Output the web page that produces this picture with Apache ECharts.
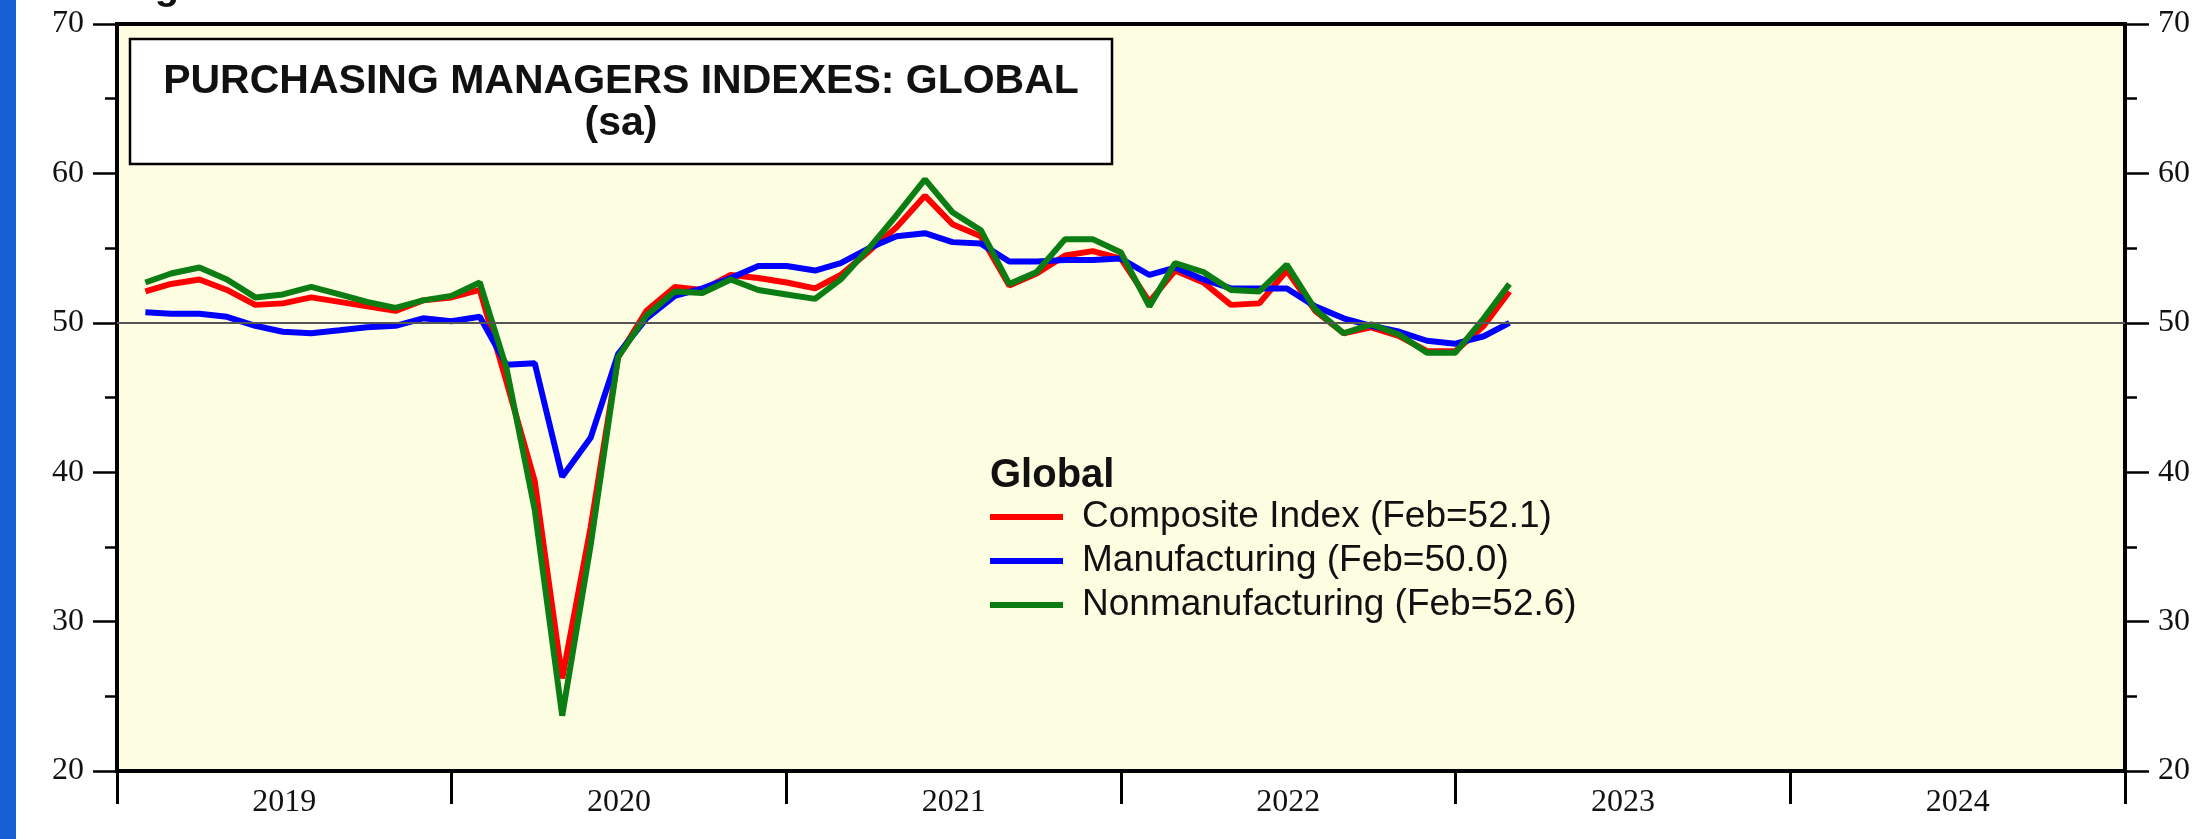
<!DOCTYPE html>
<html>
<head>
<meta charset="utf-8">
<script src="https://cdn.jsdelivr.net/npm/echarts@6/dist/echarts.min.js"></script>
<style>
  html, body { margin: 0; padding: 0; background: #ffffff; }
  #chart { width: 2193px; height: 839px; }
</style>
</head>
<body>
<div id="chart"></div>
<script>
// ---- data (monthly, Jan 2019 .. Feb 2023) ----
const months = [
  '2019-01','2019-02','2019-03','2019-04','2019-05','2019-06','2019-07','2019-08','2019-09','2019-10','2019-11','2019-12',
  '2020-01','2020-02','2020-03','2020-04','2020-05','2020-06','2020-07','2020-08','2020-09','2020-10','2020-11','2020-12',
  '2021-01','2021-02','2021-03','2021-04','2021-05','2021-06','2021-07','2021-08','2021-09','2021-10','2021-11','2021-12',
  '2022-01','2022-02','2022-03','2022-04','2022-05','2022-06','2022-07','2022-08','2022-09','2022-10','2022-11','2022-12',
  '2023-01','2023-02'
];
const composite = [
  52.1, 52.6, 52.9, 52.2, 51.2, 51.3, 51.7, 51.4, 51.1, 50.8, 51.5, 51.7,
  52.2, 46.1, 39.4, 26.2, 36.3, 47.7, 50.8, 52.4, 52.2, 53.2, 53.0, 52.7,
  52.3, 53.2, 54.8, 56.4, 58.5, 56.6, 55.8, 52.5, 53.3, 54.5, 54.8, 54.3,
  51.4, 53.5, 52.7, 51.2, 51.3, 53.5, 50.8, 49.3, 49.7, 49.1, 48.1, 48.1,
  49.8, 52.1
];
const manufacturing = [
  50.7, 50.6, 50.6, 50.4, 49.8, 49.4, 49.3, 49.5, 49.7, 49.8, 50.3, 50.1,
  50.4, 47.2, 47.3, 39.7, 42.3, 47.9, 50.3, 51.8, 52.3, 53.0, 53.8, 53.8,
  53.5, 54.0, 55.0, 55.8, 56.0, 55.4, 55.3, 54.1, 54.1, 54.2, 54.2, 54.3,
  53.2, 53.7, 52.9, 52.3, 52.3, 52.3, 51.1, 50.3, 49.8, 49.4, 48.8, 48.6,
  49.1, 50.0
];
const nonmanufacturing = [
  52.7, 53.3, 53.7, 52.9, 51.7, 51.9, 52.4, 51.9, 51.4, 51.0, 51.5, 51.8,
  52.7, 47.0, 37.5, 23.7, 35.1, 47.7, 50.5, 52.1, 52.0, 52.9, 52.2, 51.9,
  51.6, 52.9, 55.0, 57.2, 59.6, 57.4, 56.2, 52.6, 53.4, 55.6, 55.6, 54.7,
  51.1, 54.0, 53.4, 52.2, 52.1, 53.9, 50.9, 49.3, 49.9, 49.2, 48.0, 48.0,
  50.3, 52.6
];
const yearLabels = ['2019', '2020', '2021', '2022', '2023', '2024'];
const yTicks = { min: 20, max: 70, interval: 10 };
const xRange = { min: '2019-01', max: '2025-01' };

// ---- helpers ----
function monthStart(ym, addMonths) {
  const [y, m] = ym.split('-').map(Number);
  return new Date(y, m - 1 + (addMonths || 0), 1).getTime();
}
// each monthly value is plotted at the end of its month
function pts(values) { return months.map((m, i) => [monthStart(m, 1), values[i]]); }
const lastMonth = 'Feb';
function lbl(name, values) { return name + ' (' + lastMonth + '=' + values[values.length - 1].toFixed(1) + ')'; }

const serif = 'Liberation Serif';
const sans = 'Liberation Sans';

const chart = echarts.init(document.getElementById('chart'), null, { renderer: 'canvas' });

const yAxisBase = {
  type: 'value',
  min: yTicks.min, max: yTicks.max, interval: yTicks.interval,
  axisLine: { show: true, lineStyle: { color: '#000', width: 4 } },
  axisTick: { show: true, inside: false, length: 24, lineStyle: { color: '#000', width: 2.5 } },
  minorTick: { show: true, splitNumber: 2, length: 12, lineStyle: { color: '#000', width: 2.5 } },
  splitLine: { show: false },
  minorSplitLine: { show: false },
  axisLabel: { fontFamily: serif, fontSize: 32, color: '#111', margin: 33 }
};

const option = {
  animation: false,
  backgroundColor: '#ffffff',
  grid: {
    left: 117, right: 60, top: 24, bottom: 68,
    show: true, backgroundColor: '#fdfde2', borderColor: '#000', borderWidth: 4
  },
  xAxis: [
    {
      type: 'category', data: yearLabels, boundaryGap: true, position: 'bottom',
      axisLine: { show: true, lineStyle: { color: '#000', width: 4 } },
      axisTick: { show: true, interval: 0, length: 33, lineStyle: { color: '#000', width: 3 } },
      axisLabel: { interval: 0, fontFamily: serif, fontSize: 32, color: '#111', margin: 16 },
      splitLine: { show: false }
    },
    {
      type: 'time', min: monthStart(xRange.min), max: monthStart(xRange.max), show: false,
      splitLine: { show: false }
    }
  ],
  yAxis: [
    Object.assign({}, yAxisBase, { position: 'left' }),
    Object.assign({}, yAxisBase, { position: 'right' })
  ],
  legend: {
    show: true, orient: 'vertical', left: 990, top: 498,
    itemWidth: 73, itemHeight: 6, itemGap: 6, icon: 'rect', selectedMode: false,
    padding: 0,
    textStyle: { fontFamily: sans, fontSize: 37, color: '#111', lineHeight: 38, padding: [0, 0, 0, 14] },
    data: [lbl('Composite Index', composite), lbl('Manufacturing', manufacturing), lbl('Nonmanufacturing', nonmanufacturing)]
  },
  graphic: [
    { type: 'rect', left: 0, top: 0, shape: { x: 0, y: 0, width: 16, height: 839 }, style: { fill: '#1660d6' }, z: 100 },
    { type: 'text', x: 167, y: 8, style: { text: 'g', font: 'bold 40px ' + sans, fill: '#111', textAlign: 'center', textVerticalAlign: 'bottom' }, z: 100 },
    { type: 'rect', shape: { x: 130, y: 39, width: 982, height: 125 }, style: { fill: '#ffffff', stroke: '#000', lineWidth: 2.5 }, z: 100 },
    { type: 'text', x: 621, y: 82, style: { text: 'PURCHASING MANAGERS INDEXES: GLOBAL', font: 'bold 41px ' + sans, fill: '#111', textAlign: 'center', textVerticalAlign: 'middle' }, z: 101 },
    { type: 'text', x: 621, y: 124, style: { text: '(sa)', font: 'bold 41px ' + sans, fill: '#111', textAlign: 'center', textVerticalAlign: 'middle' }, z: 101 },
    { type: 'text', x: 990, y: 476, style: { text: 'Global', font: 'bold 40px ' + sans, fill: '#111', textAlign: 'left', textVerticalAlign: 'middle' }, z: 101 }
  ],
  series: [
    {
      type: 'line', name: 'ref50', xAxisIndex: 1, yAxisIndex: 0, data: [], z: 1,
      markLine: {
        silent: true, symbol: 'none', label: { show: false },
        lineStyle: { color: '#555', width: 2, type: 'solid' },
        data: [{ yAxis: 50 }]
      }
    },
    {
      type: 'line', name: lbl('Composite Index', composite), xAxisIndex: 1, yAxisIndex: 0,
      data: pts(composite), showSymbol: false, symbol: 'none', z: 3,
      color: '#ff0000', lineStyle: { color: '#ff0000', width: 6 }
    },
    {
      type: 'line', name: lbl('Manufacturing', manufacturing), xAxisIndex: 1, yAxisIndex: 0,
      data: pts(manufacturing), showSymbol: false, symbol: 'none', z: 3,
      color: '#0000ff', lineStyle: { color: '#0000ff', width: 6 }
    },
    {
      type: 'line', name: lbl('Nonmanufacturing', nonmanufacturing), xAxisIndex: 1, yAxisIndex: 0,
      data: pts(nonmanufacturing), showSymbol: false, symbol: 'none', z: 3,
      color: '#0b7d12', lineStyle: { color: '#0b7d12', width: 6 }
    }
  ]
};
chart.setOption(option);
</script>
</body>
</html>
